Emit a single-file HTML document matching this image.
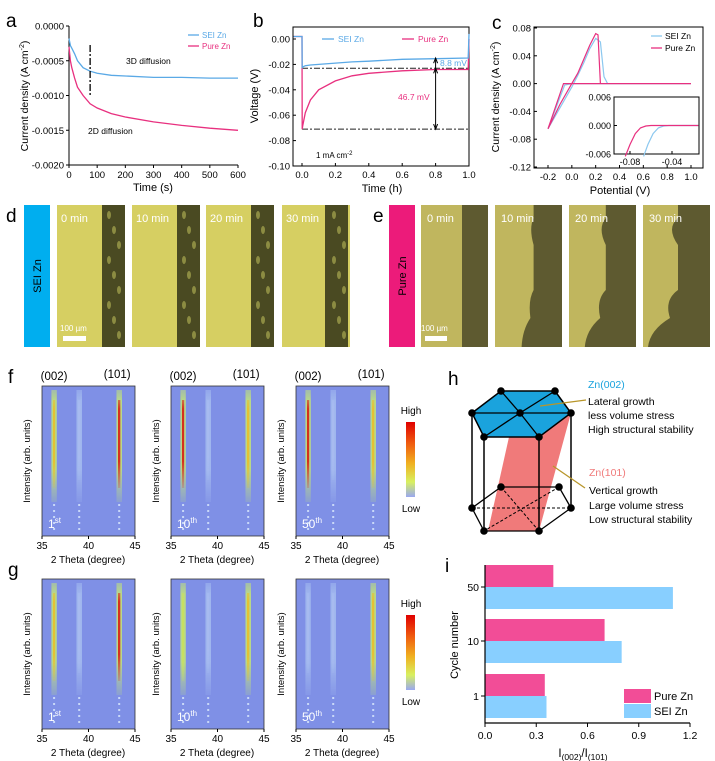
<!DOCTYPE html>
<html><head><meta charset="utf-8">
<style>
html,body{margin:0;padding:0;background:#fff;}
svg{display:block;font-family:"Liberation Sans",Arial,sans-serif;}
</style></head>
<body>
<svg id="fig" width="715" height="761" viewBox="0 0 715 761" xmlns="http://www.w3.org/2000/svg">
<defs>
<linearGradient id="cbar" x1="0" y1="0" x2="0" y2="1">
<stop offset="0" stop-color="#e00000"/><stop offset="0.3" stop-color="#f06010"/><stop offset="0.55" stop-color="#f0b020"/><stop offset="0.8" stop-color="#d8f060"/><stop offset="1" stop-color="#9aa8f0"/>
</linearGradient>
<linearGradient id="fade" x1="0" y1="0" x2="0" y2="1">
<stop offset="0" stop-color="#fff" stop-opacity="0.6"/><stop offset="0.1" stop-color="#fff" stop-opacity="1"/><stop offset="0.7" stop-color="#fff" stop-opacity="1"/><stop offset="1" stop-color="#fff" stop-opacity="0.2"/>
</linearGradient>
<mask id="streakMask" maskContentUnits="objectBoundingBox"><rect x="0" y="0" width="1" height="1" fill="url(#fade)"/></mask>
</defs>
<g id="root"></g>
</svg>
<script>
// ---------- data ----------
const tA=[0,5,10,20,30,50,75,100,150,200,300,400,500,600];
const seiA=[-0.00018,-0.00028,-0.00032,-0.0004,-0.0005,-0.0006,-0.00065,-0.00068,-0.00071,-0.00072,-0.00074,-0.00074,-0.00075,-0.00075];
const pureA=[-0.0003,-0.0005,-0.0006,-0.00075,-0.00088,-0.001,-0.00112,-0.00118,-0.00126,-0.00131,-0.00138,-0.00143,-0.00147,-0.0015];
const tB=[-0.05,0,0.001,0.005,0.02,0.05,0.1,0.2,0.3,0.4,0.6,0.8,0.995,1.0];
const pureB=[0.002,0.002,-0.071,-0.068,-0.058,-0.048,-0.04,-0.033,-0.029,-0.027,-0.025,-0.024,-0.024,0.0];
const seiB=[0.002,0.002,-0.023,-0.022,-0.021,-0.0205,-0.02,-0.019,-0.018,-0.0175,-0.016,-0.0155,-0.015,0.004];
const vPure=[1.0,0.0,-0.07,-0.2,-0.1,0.0,0.05,0.1,0.15,0.2,0.22,0.24,0.3,1.0];
const iPure=[0,0,0,-0.065,-0.03,0,0.015,0.035,0.055,0.072,0.07,0,0,0];
const vSei=[1.0,0.0,-0.06,-0.2,-0.1,0.0,0.05,0.1,0.15,0.2,0.24,0.27,0.3,1.0];
const iSei=[0,0,-0.002,-0.065,-0.035,-0.005,0.012,0.03,0.05,0.065,0.06,0.01,0,0];
const vInPure=[-0.0845,-0.08,-0.075,-0.07,-0.065,-0.06,-0.015];
const iInPure=[-0.0065,-0.004,-0.0017,-0.0005,-0.0001,0,0];
const vInSei=[-0.067,-0.063,-0.058,-0.053,-0.048,-0.043,-0.015];
const iInSei=[-0.0065,-0.004,-0.0017,-0.0005,-0.0001,0,0];
const cycles=["50","10","1"];
const ratioPure=[0.4,0.7,0.35];
const ratioSei=[1.1,0.8,0.36];
const ratioTicks=[0,0.3,0.6,0.9,1.2];
const peaks=[36.3,39.0,43.3];
const fIntens=[[0.55,0.25,1.0],[1.0,0.12,0.6],[1.0,0.2,0.55]];
const gIntens=[[0.6,0.25,1.0],[0.35,0.2,0.6],[0.3,0.2,0.55]];
const cycleLabels=["1","10","50"];
const cycleSup=["st","th","th"];

const NS="http://www.w3.org/2000/svg";
const root=document.getElementById('root');
function el(tag,attrs,parent,text){const e=document.createElementNS(NS,tag);for(const k in attrs)e.setAttribute(k,attrs[k]);if(text!==undefined)e.textContent=text;(parent||root).appendChild(e);return e;}
function lin(d0,d1,r0,r1){return v=>r0+(v-d0)*(r1-r0)/(d1-d0);}
function pathOf(xs,ys,sx,sy){return xs.map((x,i)=>(i?'L':'M')+sx(x).toFixed(1)+','+sy(ys[i]).toFixed(1)).join('');}
const PINK="#e8307f",BLUE="#5aa9e6";

// ---------- panel a ----------
{
const g=el('g',{});


const sx=lin(0,600,69,238), sy=lin(0,-0.002,26,165);
let t=el('text',{x:6,y:27,'font-size':19},g,'a');

el('polyline',{points:'69,26 69,165 238,165',fill:'none',stroke:'#000','stroke-width':1},g);
[0,-0.0005,-0.001,-0.0015,-0.002].forEach(v=>{el('line',{x1:66,x2:69,y1:sy(v),y2:sy(v),stroke:'#000'},g);
const tt=el('text',{x:64,y:sy(v)+3.5,'font-size':9.5,'text-anchor':'end'},g,v.toFixed(4));});
[0,100,200,300,400,500,600].forEach(v=>{el('line',{x1:sx(v),x2:sx(v),y1:165,y2:168,stroke:'#000'},g);
const tt=el('text',{x:sx(v),y:178,'font-size':9.5,'text-anchor':'middle'},g,String(v));});
t=el('text',{x:153,y:191,'font-size':11,'text-anchor':'middle'},g,'Time (s)');
t=el('text',{transform:'translate(28,96) rotate(-90)','font-size':10.5,'text-anchor':'middle'},g);
t.innerHTML='Current density (A cm<tspan dy="-4" font-size="7">-2</tspan><tspan dy="4">)</tspan>';

let p=el('path',{d:pathOf(tA,seiA,sx,sy),fill:'none',stroke:BLUE,'stroke-width':1.3},g);
p=el('path',{d:pathOf(tA,pureA,sx,sy),fill:'none',stroke:PINK,'stroke-width':1.3},g);
el('line',{x1:sx(75),x2:sx(75),y1:45,y2:97,stroke:'#000','stroke-width':1.3,'stroke-dasharray':'7,2,2,2'},g);
el('text',{x:126,y:64,'font-size':8.5},g,'3D diffusion');
el('text',{x:88,y:134,'font-size':8.5},g,'2D diffusion');
el('line',{x1:188,x2:199,y1:35,y2:35,stroke:BLUE,'stroke-width':1.3},g);
el('text',{x:202,y:38,'font-size':8,fill:BLUE},g,'SEI Zn');
el('line',{x1:188,x2:199,y1:46,y2:46,stroke:PINK,'stroke-width':1.3},g);
el('text',{x:202,y:49,'font-size':8,fill:PINK},g,'Pure Zn');
}
// ---------- panel b ----------
{
const g=el('g',{});


const sx=lin(0,1,302,469), sy=lin(0,-0.1,39,166);
el('text',{x:253,y:27,'font-size':19},g,'b');
el('rect',{x:293,y:27,width:176,height:139,fill:'none',stroke:'#000'},g);
[0,-0.02,-0.04,-0.06,-0.08,-0.1].forEach(v=>{el('line',{x1:293,x2:296,y1:sy(v),y2:sy(v),stroke:'#000'},g);
const tt=el('text',{x:290,y:sy(v)+3.5,'font-size':9.5,'text-anchor':'end'},g,v.toFixed(2));});
[0,0.2,0.4,0.6,0.8,1.0].forEach(v=>{el('line',{x1:sx(v),x2:sx(v),y1:166,y2:163,stroke:'#000'},g);
const tt=el('text',{x:sx(v),y:178,'font-size':9.5,'text-anchor':'middle'},g,v.toFixed(1));});
el('text',{x:382,y:192,'font-size':11,'text-anchor':'middle'},g,'Time (h)');
el('text',{transform:'translate(258,96) rotate(-90)','font-size':11,'text-anchor':'middle'},g,'Voltage (V)');
el('line',{x1:sx(0),x2:469,y1:sy(-0.023),y2:sy(-0.023),stroke:'#222','stroke-dasharray':'6,2,2,2'},g);
el('line',{x1:sx(0),x2:469,y1:sy(-0.071),y2:sy(-0.071),stroke:'#222','stroke-dasharray':'6,2,2,2'},g);
let p=el('path',{d:pathOf(tB,pureB,sx,sy),fill:'none',stroke:PINK,'stroke-width':1.3},g);
p=el('path',{d:pathOf(tB,seiB,sx,sy),fill:'none',stroke:BLUE,'stroke-width':1.3},g);
const ax=sx(0.8);
el('line',{x1:ax,x2:ax,y1:sy(-0.015),y2:sy(-0.071),stroke:'#000','stroke-width':1},g);
el('path',{d:`M${ax-2},${sy(-0.019)}L${ax},${sy(-0.015)}L${ax+2},${sy(-0.019)}M${ax-2},${sy(-0.067)}L${ax},${sy(-0.071)}L${ax+2},${sy(-0.067)}M${ax-2},${sy(-0.027)}L${ax},${sy(-0.023)}L${ax+2},${sy(-0.027)}`,fill:'none',stroke:'#000'},g);
el('text',{x:440,y:66,'font-size':8.5,fill:BLUE},g,'8.8 mV');
el('text',{x:398,y:100,'font-size':8.5,fill:PINK},g,'46.7 mV');
el('text',{x:316,y:158,'font-size':8},g).innerHTML='1 mA cm<tspan dy="-3" font-size="6">-2</tspan>';
el('line',{x1:322,x2:334,y1:39,y2:39,stroke:BLUE,'stroke-width':1.3},g);
el('text',{x:338,y:42,'font-size':8.5,fill:BLUE},g,'SEI Zn');
el('line',{x1:402,x2:414,y1:39,y2:39,stroke:PINK,'stroke-width':1.3},g);
el('text',{x:418,y:42,'font-size':8.5,fill:PINK},g,'Pure Zn');
}
// ---------- panel c ----------
{
const g=el('g',{});


const sx=lin(-0.2,1.0,548,691), sy=lin(0.08,-0.12,28,167);
el('text',{x:492,y:29,'font-size':19},g,'c');
el('rect',{x:534,y:27,width:169,height:141,fill:'none',stroke:'#000'},g);
[0.08,0.04,0,-0.04,-0.08,-0.12].forEach(v=>{el('line',{x1:534,x2:537,y1:sy(v),y2:sy(v),stroke:'#000'},g);
el('text',{x:531,y:sy(v)+3.5,'font-size':9.5,'text-anchor':'end'},g,v.toFixed(2));});
[-0.2,0,0.2,0.4,0.6,0.8,1.0].forEach(v=>{el('line',{x1:sx(v),x2:sx(v),y1:168,y2:165,stroke:'#000'},g);
el('text',{x:sx(v),y:180,'font-size':9.5,'text-anchor':'middle'},g,v.toFixed(1));});
el('text',{x:620,y:194,'font-size':11,'text-anchor':'middle'},g,'Potential (V)');
el('text',{transform:'translate(499,97) rotate(-90)','font-size':10.5,'text-anchor':'middle'},g).innerHTML='Current density (A cm<tspan dy="-4" font-size="7">-2</tspan><tspan dy="4">)</tspan>';
let p=el('path',{d:pathOf(vSei,iSei,sx,sy),fill:'none',stroke:'#8cc8ef','stroke-width':1.2},g);
p=el('path',{d:pathOf(vPure,iPure,sx,sy),fill:'none',stroke:PINK,'stroke-width':1.2},g);
el('line',{x1:651,x2:662,y1:36,y2:36,stroke:'#8cc8ef','stroke-width':1.3},g);
el('text',{x:665,y:39,'font-size':8.5},g,'SEI Zn');
el('line',{x1:651,x2:662,y1:48,y2:48,stroke:PINK,'stroke-width':1.3},g);
el('text',{x:665,y:51,'font-size':8.5},g,'Pure Zn');
// inset
const ix=lin(-0.08,-0.04,630,672), iy=lin(0.006,-0.006,97,154);
el('rect',{x:614,y:97,width:85,height:57,fill:'#fff',stroke:'#000'},g);
[0.006,0,-0.006].forEach(v=>{el('text',{x:611,y:iy(v)+3.5,'font-size':9,'text-anchor':'end'},g,v.toFixed(3));el('line',{x1:614,x2:617,y1:iy(v),y2:iy(v),stroke:'#000'},g);});
[-0.08,-0.04].forEach(v=>{el('text',{x:ix(v),y:165,'font-size':9,'text-anchor':'middle'},g,v.toFixed(2));el('line',{x1:ix(v),x2:ix(v),y1:154,y2:151,stroke:'#000'},g);});
p=el('path',{d:pathOf(vInSei,iInSei,ix,iy),fill:'none',stroke:'#8cc8ef','stroke-width':1.2},g);
p=el('path',{d:pathOf(vInPure,iInPure,ix,iy),fill:'none',stroke:PINK,'stroke-width':1.2},g);
}
// ---------- panels d & e (micrographs) ----------
{
const g=el('g',{});


el('text',{x:6,y:222,'font-size':19},g,'d');
el('rect',{x:24,y:205,width:26,height:142,fill:'#00aeef'},g);
el('text',{transform:'translate(41,276) rotate(-90)','font-size':11,'text-anchor':'middle'},g,'SEI Zn');
const dx=[57,132,206,282], ex=[421,495,569,643], times=['0 min','10 min','20 min','30 min'];
dx.forEach((x,i)=>{el('rect',{x:x,y:205,width:68,height:142,fill:'#d6cf62'},g);
el('rect',{x:x+45+(i==3?-2:0),y:205,width:23,height:142,fill:'#4a4a22'},g);
for(let k=0;k<9;k++)el('ellipse',{cx:x+52+(k%3)*5,cy:215+k*15,rx:2,ry:4,fill:'#a8a850',opacity:0.7},g);
const tt=el('text',{x:x+4,y:222,'font-size':11,fill:'#fff'},g,times[i]);});
el('text',{x:60,y:331,'font-size':8,fill:'#fff'},g,'100 µm');
el('rect',{x:63,y:336,width:23,height:5,fill:'#fff'},g);
el('text',{x:373,y:222,'font-size':19},g,'e');
el('rect',{x:389,y:205,width:26,height:142,fill:'#ec1b7a'},g);
el('text',{transform:'translate(406,276) rotate(-90)','font-size':11,'text-anchor':'middle'},g,'Pure Zn');
const bulge=[0,8,14,20];
ex.forEach((x,i)=>{el('rect',{x:x,y:205,width:67,height:142,fill:'#c0b65e'},g);
const b=bulge[i], e0=x+41-b*0.3;
if(i==0){el('rect',{x:x+41,y:205,width:26,height:142,fill:'#5e5a30'},g);}
else{el('path',{d:`M${x+67},205 L${e0},205 L${e0},218 Q${e0-b*0.6},228 ${e0},245 L${e0},290 Q${e0-b*0.7},300 ${e0-b*0.4},318 Q${e0-b*1.4},330 ${e0-b*1.5},347 L${x+67},347 Z`,fill:'#5e5a30'},g);}
el('text',{x:x+6,y:222,'font-size':11,fill:'#fff'},g,times[i]);});
el('text',{x:421,y:331,'font-size':8,fill:'#fff'},g,'100 µm');
el('rect',{x:425,y:336,width:22,height:5,fill:'#fff'},g);
}
// ---------- panels f & g (XRD heatmaps) ----------
function heat(panelY,intens,letter,cbY){
const g=el('g',{});


el('text',{x:8,y:panelY-3,'font-size':19},g,letter);
const xs=[42,171,296];
xs.forEach((x0,j)=>{
const sx=lin(35,45,x0,x0+93);
el('rect',{x:x0,y:panelY,width:93,height:150,fill:'#7f90e6',stroke:'#333','stroke-width':0.8},g);
peaks.forEach((pk,k)=>{const v=intens[j][k];
const col=v>0.85?'#d82818':v>0.5?'#e8c030':v>0.3?'#c8e060':'#a8bcf0';
const glow=v>0.3?'#c8ec70':'#a8c0f0';
el('rect',{x:sx(pk)-2.8,y:panelY+4,width:5.6,height:112,fill:glow,opacity:0.8,mask:'url(#streakMask)'},g);
const s=el('rect',{x:sx(pk)-1.2,y:panelY+14,width:2.4,height:v>0.3?88:80,fill:col,opacity:0.95,mask:'url(#streakMask)'},g);

el('line',{x1:sx(pk),x2:sx(pk),y1:panelY+118,y2:panelY+145,stroke:'#c8d8f8','stroke-width':2,'stroke-dasharray':'2,4'},g);});
[35,40,45].forEach(v=>{el('line',{x1:sx(v),x2:sx(v),y1:panelY+150,y2:panelY+153,stroke:'#000'},g);el('text',{x:sx(v),y:panelY+163,'font-size':10,'text-anchor':'middle'},g,String(v));});
el('text',{x:x0+46,y:panelY+177,'font-size':10,'text-anchor':'middle'},g,'2 Theta (degree)');
el('text',{transform:`translate(${x0-12},${panelY+75}) rotate(-90)`,'font-size':9.5,'text-anchor':'middle'},g,'Intensity (arb. units)');
el('text',{x:x0+6,y:panelY+142,'font-size':12,fill:'#fff'},g).innerHTML=cycleLabels[j]+'<tspan dy="-5" font-size="8">'+cycleSup[j]+'</tspan>';
if(letter==='f'){el('text',{x:sx(36.3),y:panelY-6,'font-size':11.5,'text-anchor':'middle'},g,'(002)');el('text',{x:sx(43.3)-2,y:panelY-8,'font-size':11.5,'text-anchor':'middle'},g,'(101)');}
});
el('text',{x:411,y:cbY-8,'font-size':10,'text-anchor':'middle'},g,'High');
el('rect',{x:406,y:cbY,width:9,height:75,fill:'url(#cbar)'},g);
el('text',{x:411,y:cbY+90,'font-size':10,'text-anchor':'middle'},g,'Low');
}
heat(386,fIntens,'f',422);
heat(579,gIntens,'g',615);
// ---------- panel h ----------
{
const g=el('g',{});


el('text',{x:448,y:385,'font-size':19},g,'h');
el('polygon',{points:'509,437 571,413 539,531 488,531',fill:'#f07a7a'},g);
el('polygon',{points:'501,391 555,391 571,413 539,437 484,437 472,413',fill:'#1aa3dd',stroke:'#000','stroke-width':1.5},g);
el('path',{d:'M501,391L520,413L484,437M555,391L520,413L571,413M520,413L539,437M472,413L520,413',fill:'none',stroke:'#000','stroke-width':1.3},g);
el('path',{d:'M472,413L472,508M484,437L484,531M539,437L539,531M571,413L571,508',fill:'none',stroke:'#000','stroke-width':1.5},g);
el('path',{d:'M501,487L559,487L571,508L539,531L484,531L472,508L501,487',fill:'none',stroke:'#000','stroke-width':1.3},g);
el('path',{d:'M472,508L571,508M501,487L539,531M559,487L484,531',fill:'none',stroke:'#000','stroke-dasharray':'3,2'},g);
[[501,391],[555,391],[571,413],[539,437],[484,437],[472,413],[520,413],[501,487],[559,487],[571,508],[539,531],[484,531],[472,508]].forEach(p=>el('circle',{cx:p[0],cy:p[1],r:3.8,fill:'#000'},g));
el('line',{x1:540,y1:406,x2:586,y2:400,stroke:'#b8962a','stroke-width':1.3},g);
el('line',{x1:553,y1:466,x2:585,y2:488,stroke:'#b8962a','stroke-width':1.3},g);
el('text',{x:588,y:388,'font-size':10.5,fill:'#1aa3dd'},g,'Zn(002)');
el('text',{x:588,y:405,'font-size':10.5},g,'Lateral growth');
el('text',{x:588,y:419,'font-size':10.5},g,'less volume stress');
el('text',{x:588,y:433,'font-size':10.5},g,'High structural stability');
el('text',{x:589,y:476,'font-size':10.5,fill:'#f07a7a'},g,'Zn(101)');
el('text',{x:589,y:494,'font-size':10.5},g,'Vertical growth');
el('text',{x:589,y:509,'font-size':10.5},g,'Large volume stress');
el('text',{x:589,y:523,'font-size':10.5},g,'Low structural stability');
}
// ---------- panel i ----------
{
const g=el('g',{});


const sx=lin(0,1.2,485,690);
const cy=[587,641,696];
el('text',{x:445,y:572,'font-size':19},g,'i');
cycles.forEach((c,k)=>{
const b1=el('rect',{x:485,y:cy[k]-22,width:sx(ratioPure[k])-485,height:22,fill:'#f24d97'},g);

const b2=el('rect',{x:485,y:cy[k],width:sx(ratioSei[k])-485,height:22,fill:'#88cfff'},g);

el('line',{x1:481,x2:485,y1:cy[k],y2:cy[k],stroke:'#000'},g);
el('text',{x:479,y:cy[k]+4,'font-size':10.5,'text-anchor':'end'},g,c);});
el('polyline',{points:'485,565 485,723 690,723',fill:'none',stroke:'#000','stroke-width':1.2},g);
ratioTicks.forEach(v=>{el('line',{x1:sx(v),x2:sx(v),y1:723,y2:727,stroke:'#000'},g);
el('text',{x:sx(v),y:739,'font-size':10.5,'text-anchor':'middle'},g,v.toFixed(1));});
el('text',{x:583,y:757,'font-size':11.5,'text-anchor':'middle'},g).innerHTML='I<tspan dy="3" font-size="8.5">(002)</tspan><tspan dy="-3">/I</tspan><tspan dy="3" font-size="8.5">(101)</tspan>';
el('text',{transform:'translate(458,645) rotate(-90)','font-size':11,'text-anchor':'middle'},g,'Cycle number');
el('rect',{x:624,y:689,width:27,height:14,fill:'#f24d97'},g);
el('rect',{x:624,y:704,width:27,height:14,fill:'#88cfff'},g);
el('text',{x:654,y:700,'font-size':11},g,'Pure Zn');
el('text',{x:654,y:715,'font-size':11},g,'SEI Zn');
}
</script>
</body></html>
